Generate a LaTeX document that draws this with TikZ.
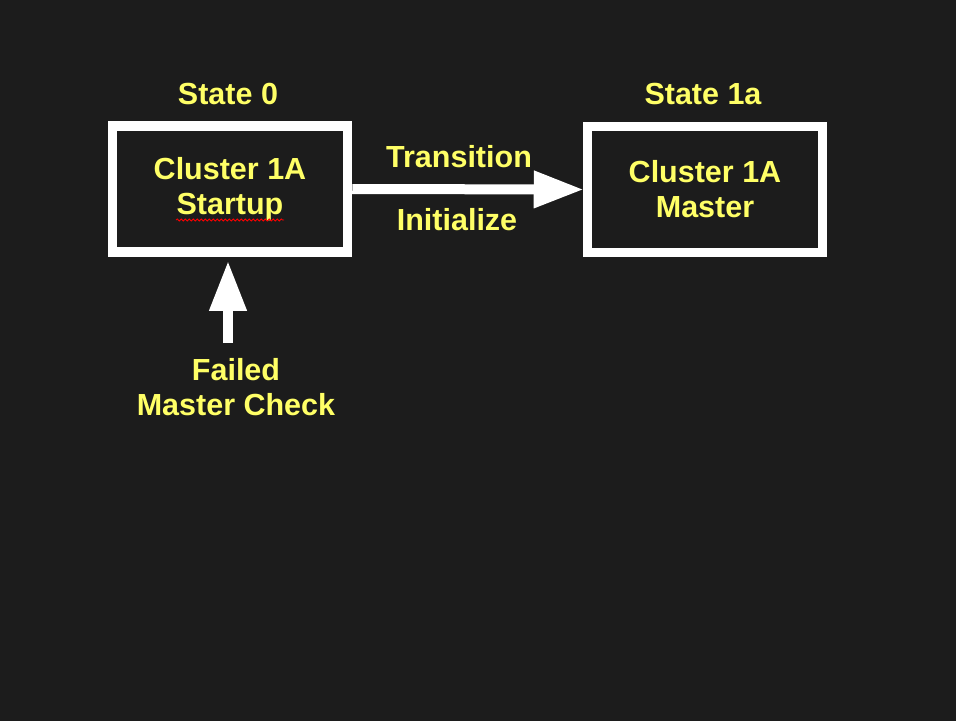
\documentclass[tikz,border=0pt]{standalone}
\usepackage{fontspec}
\setmainfont{Liberation Sans}
\usetikzlibrary{arrows.meta,decorations.pathmorphing}
\definecolor{bgdark}{HTML}{1C1C1C}
\definecolor{labelyellow}{HTML}{FFFF66}
\begin{document}
\begin{tikzpicture}[
    x=1pt, y=-1pt,
    label/.style={text=labelyellow, font=\bfseries\fontsize{30.5}{35}\selectfont, align=center, inner sep=0pt},
    state/.style={label, rectangle, draw=white, line width=9.5pt, minimum width=235pt, minimum height=126pt},
    bigarrow/.style={draw=white, line width=10pt, -{Triangle[length=50pt,width=35pt]}}
]

% Background
\fill[bgdark] (0,0) rectangle (956,721);
\useasboundingbox (0,0) rectangle (956,721);

% States
\node[state] (startup) at (230,189) {Cluster 1A\\Startup};
\node[state] (master) at (705,189.5) {Cluster 1A\\Master};

% Labels
\node[label] (state0) at (228,94) {State 0};
\node[label] (state1a) at (703,94) {State 1a};
\node[label] (transition) at (459,157) {Transition};
\node[label] (initialize) at (457,220) {Initialize};
\node[label] (failcheck) at (236,387) {Failed\\Master Check};

% Connections
\draw[bigarrow, shorten >=-1pt] (startup.east) -- (master.west);
\coordinate (failtail) at (228,343);
\draw[bigarrow, shorten >=4pt] (failtail) -- (failtail |- startup.south);

% Spell check underline
\draw[red, line width=0.8pt, decorate, decoration={snake, amplitude=1pt, segment length=4pt}]
    (176,220) -- (284,220);

\end{tikzpicture}
\end{document}
